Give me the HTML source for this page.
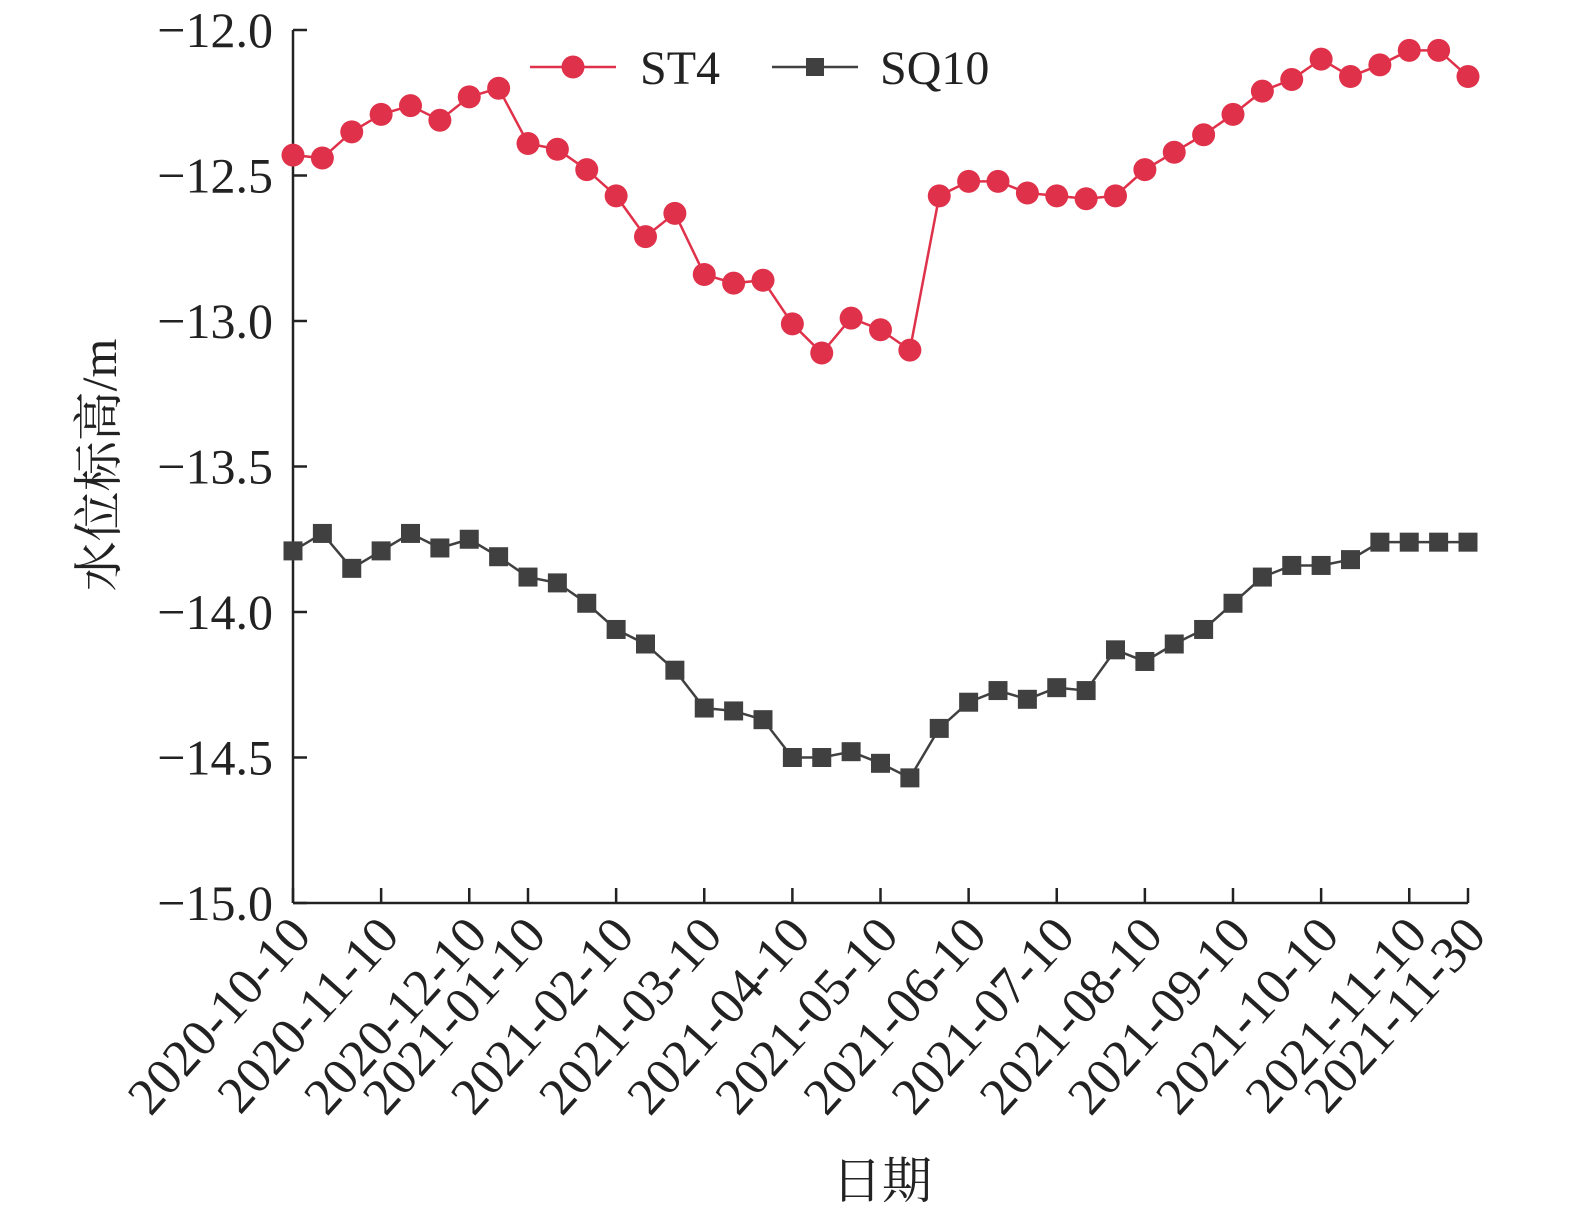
<!DOCTYPE html>
<html><head><meta charset="utf-8"><style>
html,body{margin:0;padding:0;background:#fff;}
svg{display:block;font-family:"Liberation Serif","Noto Serif CJK SC",serif;}
</style></head><body>
<svg id="chart" width="1575" height="1212" viewBox="0 0 1575 1212">
<g id="axes"></g>
<g id="series"></g>
<g>
 <g>
  <line x1="530" y1="67" x2="616" y2="67" stroke="#e0314a" stroke-width="2.5"/>
  <circle cx="573" cy="67" r="11.5" fill="#e0314a"/>
  <text x="640" y="84" font-size="48" fill="#222">ST4</text>
 </g>
 <g>
  <line x1="772" y1="67" x2="858" y2="67" stroke="#404040" stroke-width="2.5"/>
  <rect x="806" y="58" width="18" height="18" fill="#404040"/>
  <text x="880" y="84" font-size="48" fill="#222">SQ10</text>
 </g>
</g>
<text transform="translate(116,465) rotate(-90)" text-anchor="middle" font-size="50" fill="#222">水位标高/m</text>
<text x="882" y="1198" text-anchor="middle" font-size="50" fill="#222">日期</text>
</svg>
<script>
const st4 = [-12.43,-12.44,-12.35,-12.29,-12.26,-12.31,-12.23,-12.20,-12.39,-12.41,-12.48,-12.57,-12.71,-12.63,-12.84,-12.87,-12.86,-13.01,-13.11,-12.99,-13.03,-13.10,-12.57,-12.52,-12.52,-12.56,-12.57,-12.58,-12.57,-12.48,-12.42,-12.36,-12.29,-12.21,-12.17,-12.10,-12.16,-12.12,-12.07,-12.07,-12.16];
const sq10 = [-13.79,-13.73,-13.85,-13.79,-13.73,-13.78,-13.75,-13.81,-13.88,-13.90,-13.97,-14.06,-14.11,-14.20,-14.33,-14.34,-14.37,-14.50,-14.50,-14.48,-14.52,-14.57,-14.40,-14.31,-14.27,-14.30,-14.26,-14.27,-14.13,-14.17,-14.11,-14.06,-13.97,-13.88,-13.84,-13.84,-13.82,-13.76,-13.76,-13.76,-13.76];
const tickIndex = [0,3,6,8,11,14,17,20,23,26,29,32,35,38,40];
const tickLabels = ["2020-10-10","2020-11-10","2020-12-10","2021-01-10","2021-02-10","2021-03-10","2021-04-10","2021-05-10","2021-06-10","2021-07-10","2021-08-10","2021-09-10","2021-10-10","2021-11-10","2021-11-30"];
const yTicks = [-12.0,-12.5,-13.0,-13.5,-14.0,-14.5,-15.0];

const NS="http://www.w3.org/2000/svg";
const X0=293,X1=1468,Y0=30,Y1=903,N=st4.length;
const xs=i=>X0+(X1-X0)*i/(N-1);
const ys=v=>Y0+(Y1-Y0)*(-12-v)/3;
function mk(tag,attrs,parent){const e=document.createElementNS(NS,tag);for(const k in attrs)e.setAttribute(k,attrs[k]);parent.appendChild(e);return e;}
const axes=document.getElementById('axes'),ser=document.getElementById('series');
let a=mk('line',{x1:X0,y1:Y0,x2:X0,y2:Y1,stroke:'#222','stroke-width':2.5},axes);


a=mk('line',{x1:X0,y1:Y1,x2:X1,y2:Y1,stroke:'#222','stroke-width':2.5},axes);


yTicks.forEach(v=>{
 const y=ys(v);
 const t=mk('line',{x1:X0,y1:y,x2:X0+14,y2:y,stroke:'#222','stroke-width':2.5},axes);
 
 
 const l=mk('text',{x:273,y:y+17,'text-anchor':'end','font-size':50,fill:'#222'},axes);
 l.textContent='\u2212'+Math.abs(v).toFixed(1);
 
 
});
tickIndex.forEach((idx,k)=>{
 const x=xs(idx);
 const t=mk('line',{x1:x,y1:Y1,x2:x,y2:Y1-15,stroke:'#222','stroke-width':2.5},axes);
 
 
 const l=mk('text',{transform:`translate(${x+20},${Y1+34}) rotate(-48)`,'text-anchor':'end','font-size':52,fill:'#222'},axes);
 l.textContent=tickLabels[k];
 
 
});
function drawSeries(vals,color,shape,name){
 const g=mk('g',{},ser);
 
 
 const p=mk('polyline',{points:vals.map((v,i)=>xs(i)+','+ys(v)).join(' '),fill:'none',stroke:color,'stroke-width':2.5},g);
 
 
 vals.forEach((v,i)=>{
  let m;
  if(shape==='circle') m=mk('circle',{cx:xs(i),cy:ys(v),r:11.5,fill:color},g);
  else m=mk('rect',{x:xs(i)-9.5,y:ys(v)-9.5,width:19,height:19,fill:color},g);
  
  
 });
}
drawSeries(sq10,'#404040','square','sq10');
drawSeries(st4,'#e0314a','circle','st4');
</script>
</body></html>
